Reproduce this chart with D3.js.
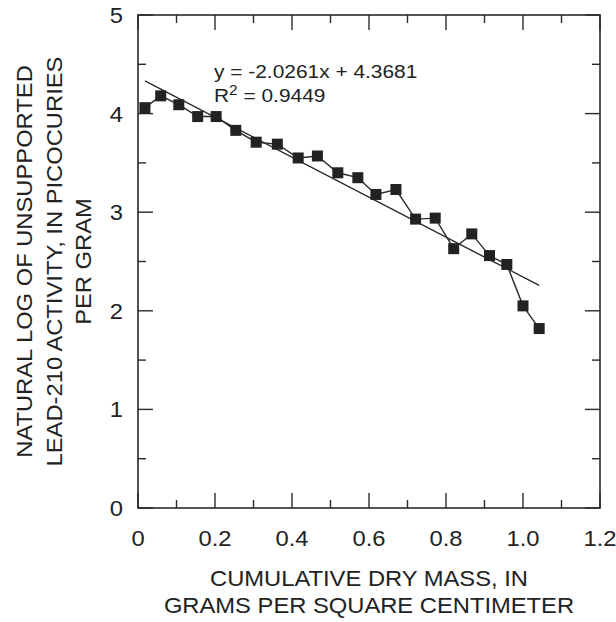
<!DOCTYPE html>
<html>
<head>
<meta charset="utf-8">
<script src="https://cdn.jsdelivr.net/npm/d3@7"></script>
<style>
  body { margin: 0; background: #fff; }
  text { font-family: "Liberation Sans", Arial, sans-serif; fill: #222; }
</style>
</head>
<body>
<div id="chart"></div>
<script>
// Data
const cumMass = [0.018, 0.059, 0.106, 0.155, 0.203, 0.254, 0.307, 0.362, 0.416, 0.466, 0.519,
                 0.571, 0.618, 0.670, 0.721, 0.772, 0.820, 0.867, 0.913, 0.958, 1.000, 1.042];
const lnActivity = [4.06, 4.18, 4.09, 3.97, 3.97, 3.83, 3.71, 3.69, 3.55, 3.57, 3.40,
                    3.35, 3.18, 3.23, 2.93, 2.94, 2.63, 2.78, 2.56, 2.47, 2.05, 1.82];
const fitSlope = -2.0261, fitIntercept = 4.3681, fitR2 = 0.9449;
const xTicks = [0, 0.2, 0.4, 0.6, 0.8, 1.0, 1.2];
const xTickLabels = ["0", "0.2", "0.4", "0.6", "0.8", "1.0", "1.2"];
const yTicks = [0, 1, 2, 3, 4, 5];
const xTitle = ["CUMULATIVE DRY MASS, IN", "GRAMS PER SQUARE CENTIMETER"];
const yTitle = ["NATURAL LOG OF UNSUPPORTED", "LEAD-210 ACTIVITY, IN PICOCURIES", "PER GRAM"];

const data = cumMass.map((x, i) => ({x: x, y: lnActivity[i]}));

const W = 616, H = 622;
const margin = {top: 15, right: 16, bottom: 114, left: 138},
    width = W - margin.left - margin.right,
    height = H - margin.top - margin.bottom;

const svg = d3.select("#chart").append("svg")
    .attr("width", W).attr("height", H);
const g = svg.append("g")
    .attr("transform", "translate(" + margin.left + "," + margin.top + ")");

const xScale = d3.scaleLinear().domain([0, 1.2]).range([0, width]);
const yScale = d3.scaleLinear().domain([0, 5]).range([height, 0]);

const ink = "#2a2a2a";

function label(parent, x, y, txt, size, anchor, sx) {
    return parent.append("text")
        .attr("transform", "translate(" + x + "," + y + ") scale(" + (sx || 1.08) + ",1)")
        .attr("font-size", size)
        .attr("text-anchor", anchor || "start")
        .text(txt);
}

// inward ticks on all four sides
const xMinor = d3.range(0, 13).map(i => i / 10);
const yMinor = d3.range(0, 11).map(i => i / 2);
function tickLen(isMajor) { return isMajor ? 15 : 8; }

xMinor.forEach((v, i) => {
    const L = tickLen(i % 2 === 0);
    g.append("line").attr("x1", xScale(v)).attr("x2", xScale(v))
        .attr("y1", height).attr("y2", height - L).attr("stroke", ink).attr("stroke-width", 1.4);
    g.append("line").attr("x1", xScale(v)).attr("x2", xScale(v))
        .attr("y1", 0).attr("y2", L).attr("stroke", ink).attr("stroke-width", 1.4);
});
yMinor.forEach((v, i) => {
    const L = tickLen(i % 2 === 0);
    g.append("line").attr("x1", 0).attr("x2", L)
        .attr("y1", yScale(v)).attr("y2", yScale(v)).attr("stroke", ink).attr("stroke-width", 1.4);
    g.append("line").attr("x1", width).attr("x2", width - L)
        .attr("y1", yScale(v)).attr("y2", yScale(v)).attr("stroke", ink).attr("stroke-width", 1.4);
});

// frame
g.append("rect")
    .attr("x", 0).attr("y", 0).attr("width", width).attr("height", height)
    .attr("fill", "none").attr("stroke", ink).attr("stroke-width", 1.6);

// tick labels
xTicks.forEach((v, i) => {
    label(g, xScale(v), height + 38, xTickLabels[i], 22, "middle");
});
yTicks.forEach(v => {
    label(g, -15, yScale(v) + 8, String(v), 22, "end");
});

// regression line over the data range
const xExt = d3.extent(cumMass);
g.append("line")
    .attr("x1", xScale(xExt[0])).attr("y1", yScale(fitSlope * xExt[0] + fitIntercept))
    .attr("x2", xScale(xExt[1])).attr("y2", yScale(fitSlope * xExt[1] + fitIntercept))
    .attr("stroke", ink).attr("stroke-width", 1.4);

// connecting line
g.append("path")
    .datum(data)
    .attr("fill", "none").attr("stroke", ink).attr("stroke-width", 1.4)
    .attr("d", d3.line().x(d => xScale(d.x)).y(d => yScale(d.y)));

// square markers
const ms = 11;
g.selectAll("rect.pt")
    .data(data)
    .enter().append("rect")
    .attr("class", "pt")
    .attr("x", d => xScale(d.x) - ms / 2)
    .attr("y", d => yScale(d.y) - ms / 2)
    .attr("width", ms).attr("height", ms)
    .attr("fill", "#222");

// equation
label(g, xScale(0.2) - 1, 63, "y = " + fitSlope + "x + " + fitIntercept, 19, "start", 1.1);
const r2 = label(g, xScale(0.2) - 1, 87, "R", 19, "start", 1.1);
r2.append("tspan").attr("font-size", 14).attr("dy", -7).text("2");
r2.append("tspan").attr("dy", 7).text(" = " + fitR2);

// axis titles
xTitle.forEach((t, i) => {
    label(svg, margin.left + width / 2, 586 + i * 27, t, 22, "middle");
});
const cy = margin.top + height / 2;
yTitle.forEach((t, i) => {
    svg.append("text")
        .attr("transform", "translate(" + (32 + i * 29.5) + "," + cy + ") rotate(-90) scale(1.08,1)")
        .attr("font-size", 22)
        .attr("text-anchor", "middle")
        .text(t);
});
</script>
</body>
</html>
